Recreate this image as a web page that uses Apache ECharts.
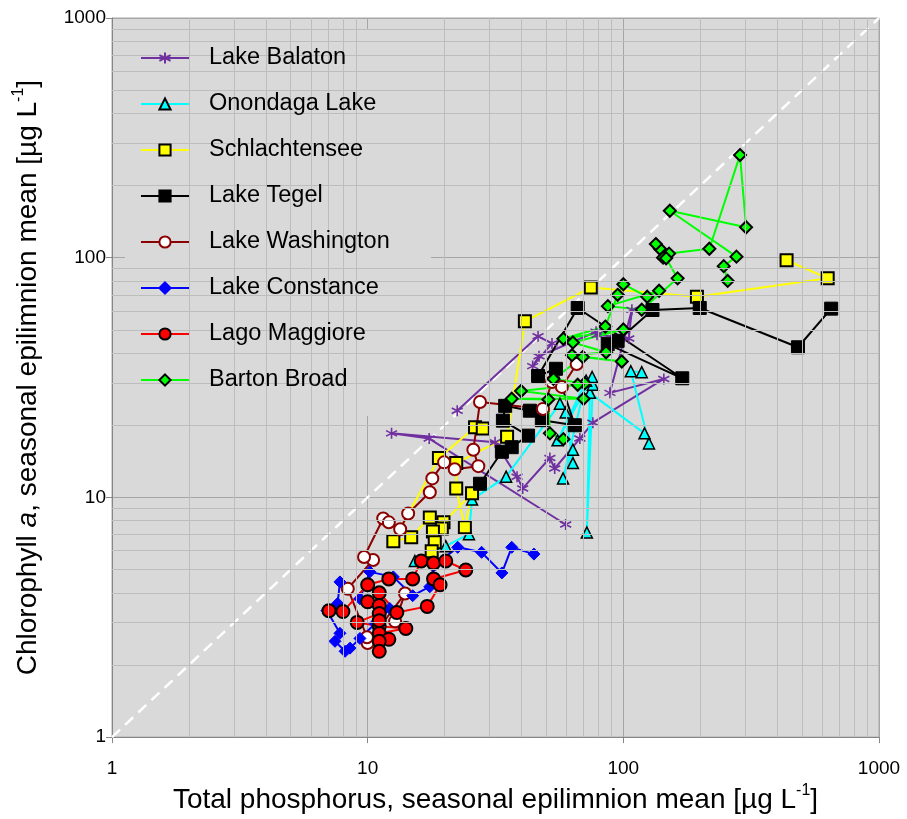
<!DOCTYPE html>
<html><head><meta charset="utf-8">
<script src="https://cdn.jsdelivr.net/npm/echarts@6/dist/echarts.min.js"></script>
<style>html,body{margin:0;padding:0;background:#fff}#c{width:907px;height:819px}</style>
</head><body><div id="c"></div>
<script>
// ---- data: [total phosphorus, chlorophyll a] (µg/L) ----
const lakeNames = ['Lake Balaton','Onondaga Lake','Schlachtensee','Lake Tegel','Lake Washington','Lake Constance','Lago Maggiore','Barton Broad'];

const balaton = [[59.5,7.71],[17.4,17.6],[12.4,18.5],[31.5,17.0],[38.4,12.2],[40.4,10.9],[51.6,14.6],[53.9,13.2],[67.6,17.6],[76.0,20.5],[144,31.2],[88.6,27.3],[108,60.6],[105,46.0],[78.9,47.7],[78.2,49.1],[46.8,38.8],[44.2,35.3],[52.6,43.9],[46.4,47.0],[22.4,23.0]];

const onondaga = [[118,33.3],[107,33.6],[126,16.8],[121,18.5],[74.0,27.3],[72.0,7.14],[76.0,29.5],[75.5,31.8],[55.3,17.3],[71.5,30.7],[58.1,12.0],[63.5,15.8],[63.5,13.9],[59.5,22.6],[56.5,24.6],[34.8,12.2],[25.6,9.79],[24.9,7.02],[20.2,6.26],[15.3,5.43]];

const schlachtensee = [[435,97.6],[630,82.0],[194,68.7],[74.6,75.1],[41.2,54.3],[35.1,17.9],[22.2,13.9],[22.2,10.9],[24.0,7.5],[25.6,10.4],[19.8,7.87],[19.5,7.42],[18.0,7.2],[18.3,6.5],[17.8,5.96],[17.5,8.25],[14.8,6.82],[12.6,6.56],[19.0,14.6],[26.3,19.6],[28.2,19.4]];

const tegel = [[650,61.3],[482,42.3],[199,61.7],[130,60.5],[95.0,45.0],[86.9,43.6],[170,31.4],[66.3,61.7],[46.4,32.1],[54.5,34.4],[64.6,20.0],[48.0,21.0],[43.1,23.0],[34.5,24.1],[33.8,20.9],[42.4,18.1],[36.6,16.2],[33.5,15.5],[27.5,11.4]];

const washington = [[12.8,3.04],[14.0,3.97],[10.0,2.47],[9.94,2.61],[8.36,4.16],[10.5,5.48],[9.68,5.64],[11.5,8.17],[12.1,7.87],[13.4,7.36],[14.4,8.57],[17.5,10.5],[17.9,12.0],[19.9,14.0],[21.9,13.1],[27.1,13.5],[25.9,15.8],[27.5,25.0],[48.5,23.4],[52.6,30.3],[57.5,28.9],[65.7,36.0]];

const constance = [[7.79,4.44],[7.63,3.61],[6.93,3.37],[7.79,2.71],[7.45,2.51],[8.16,2.28],[8.53,2.35],[9.33,2.58],[10.7,2.98],[12.2,3.44],[9.33,3.78],[10.2,4.89],[12.6,4.66],[15.0,3.89],[17.5,4.24],[18.1,5.18],[22.5,6.19],[27.9,5.90],[33.5,4.84],[36.6,6.19],[44.7,5.80]];

const maggiore = [[7.06,3.37],[8.0,3.34],[10.0,4.32],[12.1,4.57],[15.0,4.57],[16.2,5.43],[18.1,5.32],[20.2,5.43],[24.2,4.98],[18.1,4.57],[19.2,4.32],[17.1,3.51],[13.0,3.31],[11.1,4.0],[10.0,3.67],[11.1,3.54],[11.1,3.28],[9.1,3.01],[11.1,2.9],[14.1,2.84],[11.1,2.71],[12.1,2.56],[11.1,2.51],[11.1,2.28],[11.1,3.06]];

const bartonBroad = [[256,80],[247,92.2],[277,101],[152,157],[302,134],[286,268],[217,109],[151,104],[139,109],[134,114],[143,100],[147,99.5],[163,82],[118,60.7],[87,62.8],[138,72.8],[124,68.7],[100,77.5],[95,70],[85,51.6],[58.3,45.9],[100,50.2],[63.5,44.3],[85.6,40.3],[63,39.2],[98.6,36.9],[69.4,38.5],[53.3,31.2],[70.6,29.9],[66.3,29.5],[39.8,27.8],[69.9,25.8],[36.6,25.8],[50.9,25.6],[51.6,18.5],[58.3,17.5]];

const oneToOne = [[1,1],[1000,1000]];
const axisMin = 1, axisMax = 1000;
const decades = [1,10,100];
const minorSteps = [2,3,4,5,6,7,8,9];

// ---- build ----
const FONT = "'Liberation Sans', Arial, sans-serif";
const minorX = [], minorY = [];
decades.forEach(d => minorSteps.forEach(m => { minorX.push({xAxis: d*m}); minorY.push({yAxis: d*m}); }));

const asterisk = 'path://M5,0L5,10M0.67,2.5L9.33,7.5M9.33,2.5L0.67,7.5';

function lake(name, data, lineColor, symbol, size, fill, border, bw) {
  return {
    name, type: 'line', data, z: 3,
    symbol, symbolSize: size,
    lineStyle: {color: lineColor, width: 2},
    itemStyle: {color: fill, borderColor: border, borderWidth: bw},
    emphasis: {disabled: true}
  };
}

const series = [
  { type: 'line', name: 'grid-minor', data: [[1,1]], symbol: 'none', lineStyle: {opacity: 0}, z: 1, silent: true,
    markLine: { silent: true, symbol: ['none','none'], label: {show: false}, animation: false,
      lineStyle: {color: '#bdbdbd', type: 'solid', width: 1},
      data: minorX.concat(minorY) } },
  { type: 'line', name: '1:1', data: oneToOne, symbol: 'none', z: 2, silent: true,
    lineStyle: {color: '#ffffff', width: 2.5, type: [11, 7]} },
  lake(lakeNames[0], balaton, '#7030A0', asterisk, 11, '#7030A0', '#7030A0', 1.6),
  lake(lakeNames[1], onondaga, '#00FFFF', 'triangle', 11, '#00FFFF', '#000000', 1.5),
  lake(lakeNames[2], schlachtensee, '#FFFF00', 'rect', 12, '#FFFF00', '#000000', 2),
  lake(lakeNames[3], tegel, '#000000', 'rect', 13, '#000000', '#000000', 1),
  lake(lakeNames[4], washington, '#8B0000', 'circle', 12, '#FFFFFF', '#8B0000', 2),
  lake(lakeNames[5], constance, '#0000FF', 'diamond', 12, '#0000FF', '#0000FF', 1),
  lake(lakeNames[6], maggiore, '#FF0000', 'circle', 13, '#FF0000', '#000000', 2),
  lake(lakeNames[7], bartonBroad, '#00FF00', 'diamond', 12, '#00FF00', '#000000', 2)
];

const axisCommon = {
  type: 'log', logBase: 10, min: axisMin, max: axisMax,
  axisLine: {show: true, lineStyle: {color: '#868686', width: 1}},
  axisTick: {show: true, length: 6, lineStyle: {color: '#868686'}},
  splitLine: {show: true, lineStyle: {color: '#a6a6a6', width: 1}},
  axisLabel: {color: '#000', fontFamily: FONT, fontSize: 19, formatter: v => String(Math.round(v))},
  nameLocation: 'middle',
  nameTextStyle: {
    color: '#000', fontFamily: FONT,
    rich: {
      n: {fontSize: 28, lineHeight: 34, fontFamily: FONT, color: '#000'},
      i: {fontSize: 28, lineHeight: 34, fontFamily: FONT, fontStyle: 'italic', color: '#000'},
      s: {fontSize: 16, lineHeight: 16, fontFamily: FONT, verticalAlign: 'top', color: '#000'}
    }
  }
};

const option = {
  animation: false,
  backgroundColor: '#ffffff',
  grid: {left: 112, right: 28, top: 18, bottom: 74, show: true, backgroundColor: '#d9d9d9', borderColor: '#a6a6a6', borderWidth: 1},
  xAxis: Object.assign({}, axisCommon, {
    name: '{n|Total phosphorus, seasonal epilimnion mean [µg L}{s|-1}{n|]}',
    nameGap: 40,
    axisLabel: Object.assign({}, axisCommon.axisLabel, {margin: 22})
  }),
  yAxis: Object.assign({}, axisCommon, {
    name: '{n|Chlorophyll }{i|a}{n|, seasonal epilimnion mean [µg L}{s|-1}{n|]}',
    nameGap: 67, nameRotate: 90,
    axisLabel: Object.assign({}, axisCommon.axisLabel, {margin: 6})
  }),
  graphic: [{type: 'rect', z: 3, shape: {x: 125, y: 29, width: 306, height: 387}, style: {fill: '#d9d9d9'}, silent: true}],
  legend: {
    data: lakeNames, orient: 'vertical', left: 140, top: 46, padding: 0, z: 10,
    itemWidth: 48, itemHeight: 14, itemGap: 22, selectedMode: false,
    textStyle: {fontFamily: FONT, fontSize: 23.5, color: '#000', padding: [0, 0, 0, 15]}
  },
  series
};

const chart = echarts.init(document.getElementById('c'), null, {renderer: 'canvas'});
chart.setOption(option);
</script></body></html>
